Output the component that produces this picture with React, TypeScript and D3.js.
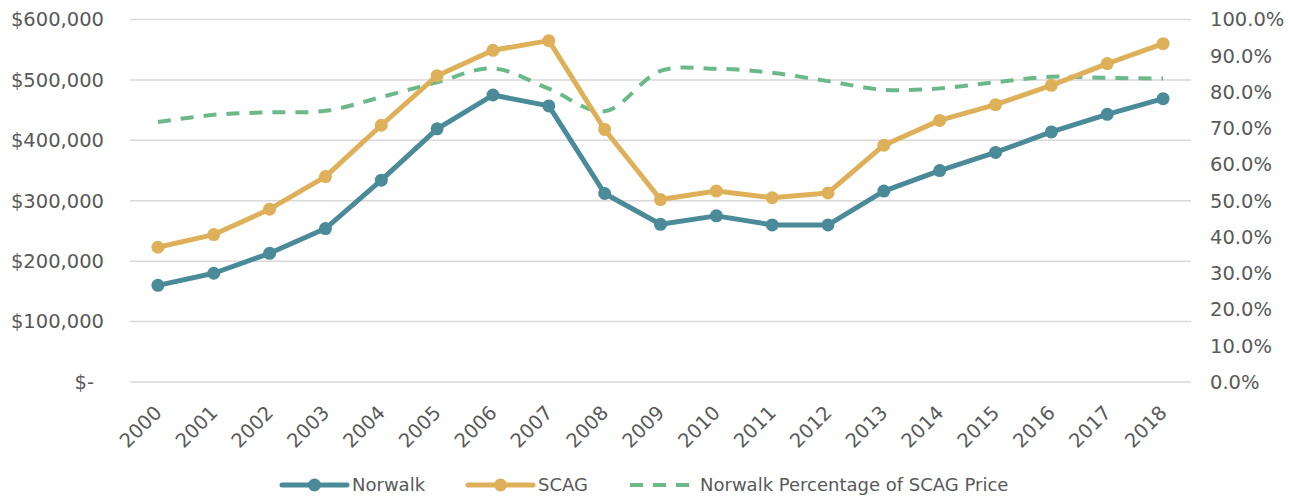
import { useEffect, useRef } from 'react'
import * as d3 from 'd3'

const years = ['2000', '2001', '2002', '2003', '2004', '2005', '2006', '2007', '2008', '2009',
  '2010', '2011', '2012', '2013', '2014', '2015', '2016', '2017', '2018']
const norwalk = [160000, 180000, 213000, 254000, 334000, 419000, 475000, 457000, 312000, 261000,
  275000, 260000, 260000, 316000, 350000, 380000, 414000, 443000, 469000]
const scag = [223000, 244000, 286000, 340000, 425000, 507000, 549000, 565000, 418000, 302000,
  316000, 305000, 313000, 392000, 433000, 459000, 491000, 527000, 560000]
const pctOfScag = [0.717, 0.737, 0.744, 0.748, 0.786, 0.827, 0.865, 0.809, 0.747, 0.858,
  0.864, 0.853, 0.83, 0.806, 0.81, 0.827, 0.842, 0.839, 0.837]
const leftTicks = [0, 100000, 200000, 300000, 400000, 500000, 600000]
const rightTicks = [0, 0.1, 0.2, 0.3, 0.4, 0.5, 0.6, 0.7, 0.8, 0.9, 1]

const TEAL = '#4a8a99'
const GOLD = '#dfb05a'
const GREEN = '#6bb88a'
const TEXT = '#595959'
const FONT = '"DejaVu Sans", sans-serif'

export default function App() {
  const ref = useRef(null)

  useEffect(() => {
    const svg = d3.select(ref.current)
    svg.selectAll('*').remove()

    const width = 1294
    const height = 497
    const left = 130
    const right = 1191
    const top = 19.5
    const bottom = 382

    const x = d3.scalePoint().domain(years).range([left, right]).padding(0.5)
    const y = d3.scaleLinear().domain([0, 600000]).range([bottom, top])
    const y2 = d3.scaleLinear().domain([0, 1]).range([bottom, top])

    // gridlines
    svg.append('g')
      .selectAll('line')
      .data(leftTicks)
      .join('line')
      .attr('x1', left)
      .attr('x2', right)
      .attr('y1', d => y(d))
      .attr('y2', d => y(d))
      .attr('stroke', '#d9d9d9')
      .attr('stroke-width', 1.5)

    // left axis
    const fmt = d3.format('$,')
    svg.append('g')
      .attr('transform', `translate(104,0)`)
      .call(d3.axisLeft(y).tickValues(leftTicks).tickSize(0).tickPadding(0)
        .tickFormat(d => (d === 0 ? '$-' : fmt(d))))
      .call(g => g.select('.domain').remove())
      .call(g => g.selectAll('text')
        .attr('fill', TEXT)
        .style('font-family', FONT)
        .style('font-size', '19.5px')
        .attr('x', d => (d === 0 ? -10 : 0)))

    // right axis
    svg.append('g')
      .attr('transform', `translate(1210,0)`)
      .call(d3.axisRight(y2).tickValues(rightTicks).tickSize(0).tickPadding(0)
        .tickFormat(d3.format('.1%')))
      .call(g => g.select('.domain').remove())
      .call(g => g.selectAll('text')
        .attr('fill', TEXT)
        .style('font-family', FONT)
        .style('font-size', '19.5px'))

    // x labels
    svg.append('g')
      .selectAll('text')
      .data(years)
      .join('text')
      .attr('transform', d => `translate(${x(d) + 5},414) rotate(-45)`)
      .attr('text-anchor', 'end')
      .attr('fill', TEXT)
      .style('font-family', FONT)
      .style('font-size', '19.5px')
      .text(d => d)

    // dashed percentage line
    const pctLine = d3.line()
      .x((d, i) => x(years[i]))
      .y(d => y2(d))
      .curve(d3.curveCatmullRom)

    svg.append('path')
      .datum(pctOfScag)
      .attr('fill', 'none')
      .attr('stroke', GREEN)
      .attr('stroke-width', 4)
      .attr('stroke-dasharray', '13,10')
      .attr('d', pctLine)

    const line = d3.line()
      .x((d, i) => x(years[i]))
      .y(d => y(d))

    const series = [
      { values: norwalk, color: TEAL },
      { values: scag, color: GOLD },
    ]

    series.forEach(s => {
      svg.append('path')
        .datum(s.values)
        .attr('fill', 'none')
        .attr('stroke', s.color)
        .attr('stroke-width', 5)
        .attr('stroke-linejoin', 'round')
        .attr('d', line)

      svg.append('g')
        .selectAll('circle')
        .data(s.values)
        .join('circle')
        .attr('cx', (d, i) => x(years[i]))
        .attr('cy', d => y(d))
        .attr('r', 6.5)
        .attr('fill', s.color)
    })

    // legend
    const legend = [
      { label: 'Norwalk', color: TEAL, x0: 282, marker: true, dashed: false },
      { label: 'SCAG', color: GOLD, x0: 468, marker: true, dashed: false },
      { label: 'Norwalk Percentage of SCAG Price', color: GREEN, x0: 630, marker: false, dashed: true },
    ]
    const ly = 485
    legend.forEach(l => {
      const g = svg.append('g')
      g.append('line')
        .attr('x1', l.x0)
        .attr('x2', l.x0 + 65)
        .attr('y1', ly)
        .attr('y2', ly)
        .attr('stroke', l.color)
        .attr('stroke-width', l.dashed ? 4 : 5)
        .attr('stroke-dasharray', l.dashed ? '13,10' : null)
        .attr('stroke-linecap', l.dashed ? 'butt' : 'round')
      if (l.marker) {
        g.append('circle')
          .attr('cx', l.x0 + 32.5)
          .attr('cy', ly)
          .attr('r', 6.5)
          .attr('fill', l.color)
      }
      g.append('text')
        .attr('x', l.x0 + 70)
        .attr('y', ly)
        .attr('dy', '0.35em')
        .attr('fill', TEXT)
        .style('font-family', FONT)
        .style('font-size', '18px')
        .text(l.label)
    })
  }, [])

  return (
    <svg
      ref={ref}
      width={1294}
      height={497}
      style={{ position: 'absolute', left: 0, top: 0, background: '#ffffff' }}
    />
  )
}
